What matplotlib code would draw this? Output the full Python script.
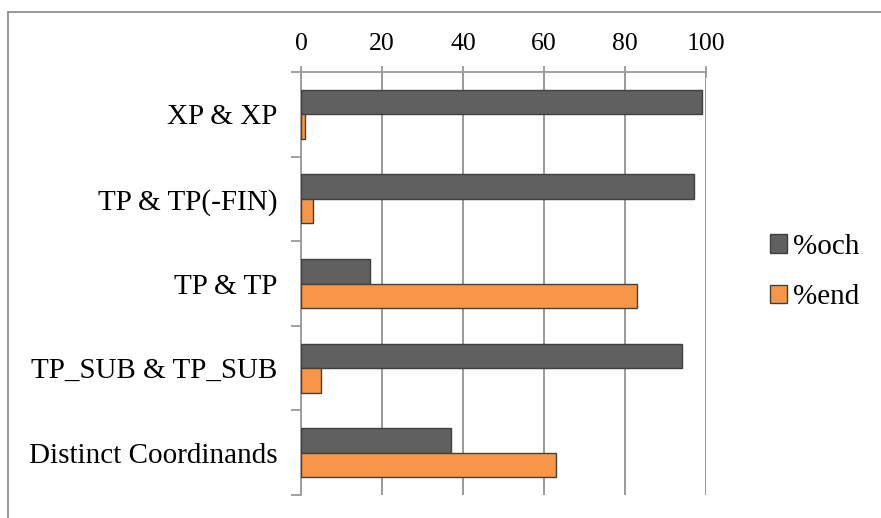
import matplotlib
matplotlib.use("Agg")
import matplotlib.pyplot as plt
from matplotlib.patches import Patch
from matplotlib.lines import Line2D
import numpy as np

categories = ["XP & XP", "TP & TP(-FIN)", "TP & TP", "TP_SUB & TP_SUB", "Distinct Coordinands"]
och = [99, 97, 17, 94, 37]
end = [1, 3, 83, 5, 63]
series_names = ["%och", "%end"]
xticks = [0, 20, 40, 60, 80, 100]

plt.rcParams['font.family'] = ['Liberation Serif', 'DejaVu Serif']

fig = plt.figure(figsize=(8.81, 5.18), dpi=100)
ax = fig.add_axes([301/881, 1-495/518, (706-301)/881, (495-72)/518])

y = np.arange(len(categories))
h = 0.29
c_och = '#606060'
c_end = '#F79646'
edge = '#404040'
grid_c = '#9A9A9A'
ax.barh(y - h/2, och, height=h, color=c_och, edgecolor=edge, linewidth=1.0, zorder=3)
ax.barh(y + h/2, end, height=h, color=c_end, edgecolor=edge, linewidth=1.0, zorder=3)

ax.set_xlim(0, 100)
ax.set_ylim(len(categories) - 0.5, -0.5)
ax.set_xticks(xticks)
ax.set_xticklabels([str(t) for t in xticks])
ax.xaxis.tick_top()
ax.tick_params(axis='x', which='major', direction='inout', length=8, width=1.3,
               color=grid_c, labelsize=18.5, pad=8)
ax.set_yticks(y)
ax.set_yticklabels(categories)
ax.tick_params(axis='y', which='major', length=0, labelsize=21, pad=17)
ax.set_yticks(np.arange(len(categories) + 1) - 0.5, minor=True)
ax.tick_params(axis='y', which='minor', direction='out', length=7, width=1.3, color=grid_c)

for s in ['right', 'bottom']:
    ax.spines[s].set_visible(False)
for s in ['left', 'top']:
    ax.spines[s].set_color(grid_c)
    ax.spines[s].set_linewidth(1.3)

ax.grid(axis='x', color=grid_c, linewidth=1.4, zorder=0)
ax.set_axisbelow(True)

handles = [Patch(facecolor=c_och, edgecolor=edge, linewidth=1.0),
           Patch(facecolor=c_end, edgecolor=edge, linewidth=1.0)]
fig.legend(handles, series_names, loc='center left', bbox_to_anchor=(755/881, 1-272/518),
           frameon=False, fontsize=21, handlelength=0.6, handleheight=0.6,
           handletextpad=0.2, labelspacing=0.85, borderpad=0)

fig.add_artist(Line2D([8/881, 8/881], [0, 1-12/518], transform=fig.transFigure,
                      color='#888888', linewidth=1.2))
fig.add_artist(Line2D([8/881, 1], [1-12/518, 1-12/518], transform=fig.transFigure,
                      color='#888888', linewidth=1.2))

fig.savefig("out.png", dpi=100)
